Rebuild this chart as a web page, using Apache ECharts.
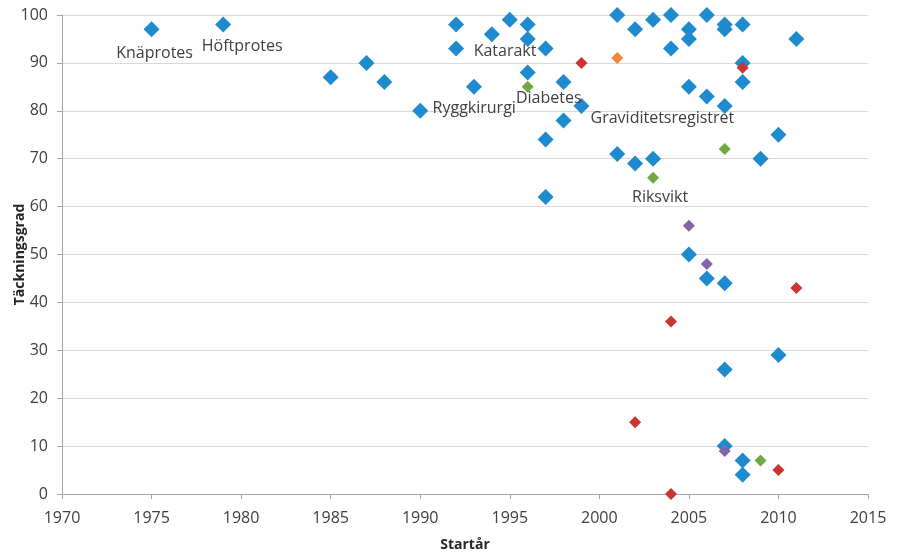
<!DOCTYPE html>
<html>
<head>
<meta charset="utf-8">
<script src="https://cdn.jsdelivr.net/npm/echarts@6/dist/echarts.min.js"></script>
<style>
  html, body { margin: 0; padding: 0; background: #fff; }
  #main { width: 897px; height: 554px; }
</style>
</head>
<body>
<div id="main"></div>
<script>
// startår, täckningsgrad
var bluePoints = [
  [1975, 97], [1979, 98], [1985, 87], [1987, 90], [1988, 86], [1990, 80],
  [1992, 98], [1992, 93], [1993, 85], [1994, 96], [1995, 99],
  [1996, 98], [1996, 95], [1996, 88],
  [1997, 93], [1997, 74], [1997, 62], [1998, 86], [1998, 78], [1999, 81],
  [2001, 100], [2001, 71], [2002, 97], [2002, 69], [2003, 99], [2003, 70],
  [2004, 100], [2004, 93], [2005, 97], [2005, 95], [2005, 85], [2005, 50],
  [2006, 100], [2006, 83], [2006, 45],
  [2007, 98], [2007, 97], [2007, 81], [2007, 44], [2007, 26], [2007, 10],
  [2008, 98], [2008, 90], [2008, 86], [2008, 7], [2008, 4],
  [2009, 70], [2010, 75], [2010, 29], [2011, 95]
]
var redPoints = [[1999, 90], [2008, 89], [2011, 43], [2004, 36], [2002, 15], [2010, 5], [2004, 0]]
var greenPoints = [[1996, 85], [2003, 66], [2007, 72], [2009, 7]]
var purplePoints = [[2005, 56], [2006, 48], [2007, 9]]
var orangePoints = [[2001, 91]]

// registernamn som står utskrivna i diagrammet
var blueLabels = [
  { point: [1975, 97], text: 'Knäprotes', offset: [3, 24] },
  { point: [1979, 98], text: 'Höftprotes', offset: [19, 22] },
  { point: [1990, 80], text: 'Ryggkirurgi', offset: [54, -2] },
  { point: [1992, 93], text: 'Katarakt', offset: [49, 3] },
  { point: [1999, 81], text: 'Graviditetsregistret', offset: [81, 12] }
]
var greenLabels = [
  { point: [1996, 85], text: 'Diabetes', offset: [21, 12] },
  { point: [2003, 66], text: 'Riksvikt', offset: [7, 20] }
]

var font = '"Open Sans", "Noto Sans", sans-serif'

function withLabels(points, labels) {
  return points.map(function (p) {
    var l = labels.find(function (x) { return x.point[0] === p[0] && x.point[1] === p[1] })
    if (!l) return p
    return {
      value: p,
      label: {
        show: true,
        formatter: l.text,
        position: 'inside',
        offset: l.offset,
        color: '#404040',
        fontSize: 16,
        fontFamily: font
      }
    }
  })
}

function scatter(data, color, size, z) {
  return {
    type: 'scatter',
    symbol: 'diamond',
    symbolSize: size,
    data: data,
    z: z,
    itemStyle: { color: color, opacity: 1 },
    emphasis: { disabled: true }
  }
}

var chart = echarts.init(document.getElementById('main'))
chart.setOption({
  animation: false,
  grid: { left: 62, right: 29, top: 15, bottom: 60, outerBoundsMode: 'none' },
  xAxis: {
    type: 'value',
    min: 1970, max: 2015, interval: 5,
    name: 'Startår',
    nameLocation: 'middle',
    nameGap: 44,
    nameMoveOverlap: false,
    nameTextStyle: { fontWeight: 'bold', fontSize: 14, color: '#262626', fontFamily: font },
    axisLine: { lineStyle: { color: '#A6A6A6' } },
    axisTick: { show: true, length: 5, lineStyle: { color: '#A6A6A6' } },
    axisLabel: { color: '#404040', fontSize: 16, fontFamily: font, margin: 16, formatter: function (v) { return String(v) } },
    splitLine: { show: false }
  },
  yAxis: {
    type: 'value',
    min: 0, max: 100, interval: 10,
    name: 'Täckningsgrad',
    nameLocation: 'middle',
    nameGap: 35,
    nameMoveOverlap: false,
    nameTextStyle: { fontWeight: 'bold', fontSize: 14, color: '#262626', fontFamily: font },
    axisLine: { show: true, lineStyle: { color: '#A6A6A6' } },
    axisTick: { show: true, length: 5, lineStyle: { color: '#A6A6A6' } },
    axisLabel: { color: '#404040', fontSize: 16, fontFamily: font, margin: 14 },
    splitLine: { lineStyle: { color: '#D9D9D9' } }
  },
  series: [
    scatter(withLabels(bluePoints, blueLabels), '#1E8BCF', 16, 2),
    scatter(redPoints, '#CC3333', 12, 3),
    scatter(withLabels(greenPoints, greenLabels), '#73A840', 12, 3),
    scatter(purplePoints, '#8464A8', 12, 4),
    scatter(orangePoints, '#F2843E', 12, 3)
  ]
})
</script>
</body>
</html>
